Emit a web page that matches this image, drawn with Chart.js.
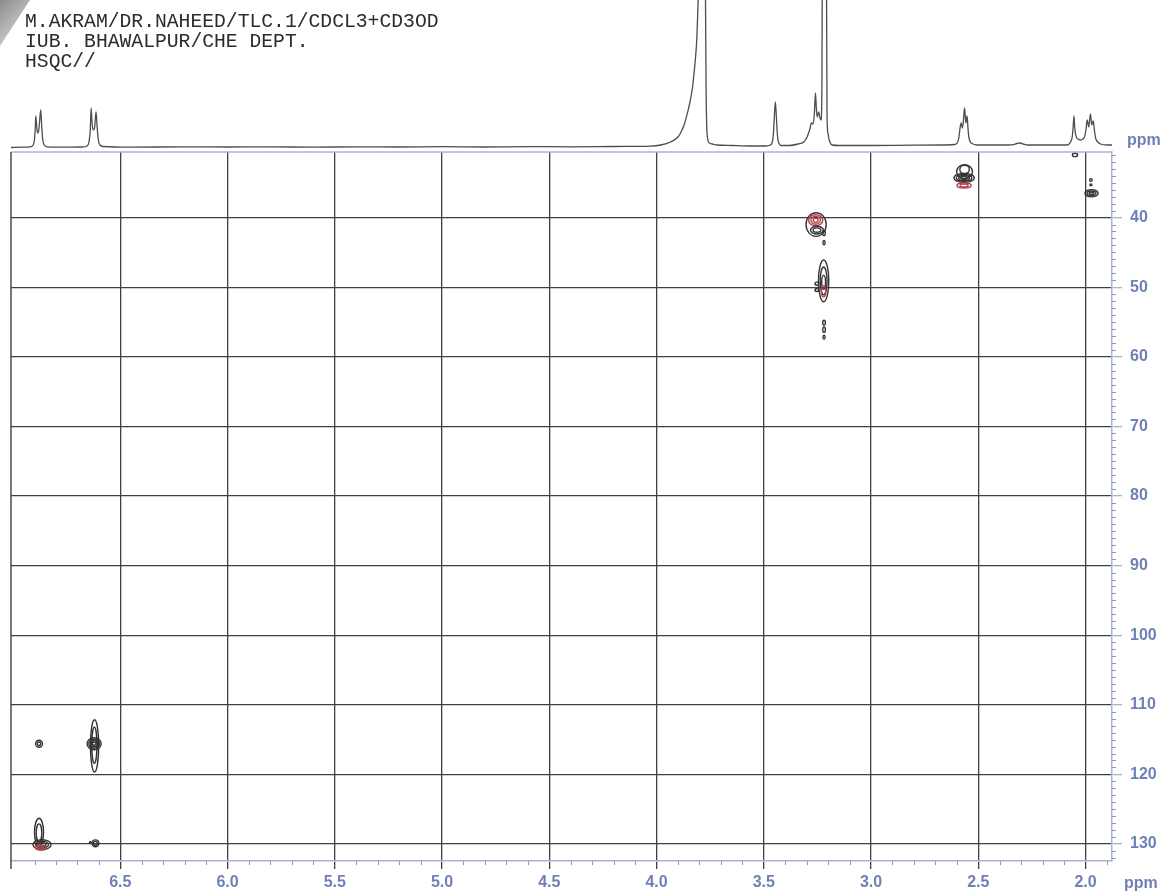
<!DOCTYPE html>
<html>
<head>
<meta charset="utf-8">
<title>HSQC</title>
<script src="https://cdn.jsdelivr.net/npm/chart.js@4/dist/chart.umd.min.js"></script>
<style>
  html, body { margin: 0; padding: 0; background: #fff; }
  #wrap { position: relative; width: 1162px; height: 895px; overflow: hidden; background: #fff; }
  canvas { position: absolute; left: 0; top: 0; }
  .hdr { position: absolute; left: 25px; top: 12px; font: 19.7px "Liberation Mono", "Courier New", monospace;
         color: #2b2b2b; line-height: 20px; white-space: pre; }
  .ppm { position: absolute; font: bold 16px "Liberation Sans", Arial, sans-serif; color: #7080b4; line-height: 16px; }
  .fold { position: absolute; left: 0; top: 0; width: 30px; height: 46px;
          background: linear-gradient(135deg, #8c8c8c 0%, #b5b5b5 45%, #e6e6e6 100%);
          clip-path: polygon(0 0, 100% 0, 0 100%); }
</style>
</head>
<body>
<div id="wrap">
  <canvas id="hsqc" width="1162" height="895"></canvas>
  <canvas id="proj" width="1162" height="152"></canvas>
  <div class="fold"></div>
  <div class="hdr">M.AKRAM/DR.NAHEED/TLC.1/CDCL3+CD3OD
IUB. BHAWALPUR/CHE DEPT.
HSQC//</div>
  <div class="ppm" style="left:1127px; top:132px;">ppm</div>
  <div class="ppm" style="left:1124px; top:875px;">ppm</div>
</div>
<script>
// ---- axis ranges (ppm) ----
const H_LEFT = 7.0096, H_RIGHT = 1.8765;      // 1H axis, reversed
const C_TOP = 30.58, C_BOTTOM = 132.44;        // 13C axis, increasing downward

// ---- tick labels ----
const hTicks = [6.5, 6.0, 5.5, 5.0, 4.5, 4.0, 3.5, 3.0, 2.5, 2.0];
const cTicks = [40, 50, 60, 70, 80, 90, 100, 110, 120, 130];

// ---- 1H projection trace (ppm, intensity) ----
const projPpm = [
  7.010, 6.950, 6.920, 6.906, 6.900, 6.896, 6.894, 6.890, 6.886, 6.880, 6.875, 6.871, 6.867, 6.862, 6.855, 6.840,
  6.760, 6.680, 6.655, 6.646, 6.640, 6.636, 6.632, 6.627, 6.620, 6.616, 6.613, 6.609, 6.603, 6.595, 6.580,
  6.450, 6.200, 6.000, 5.800, 5.600, 5.400, 5.200, 5.000, 4.800, 4.600, 4.400, 4.200, 4.100, 4.030,
  3.980, 3.935, 3.900, 3.888, 3.870, 3.856, 3.845, 3.832, 3.825, 3.818, 3.812, 3.809, 3.804, 3.798, 3.790,
  3.782, 3.776, 3.772, 3.769, 3.766, 3.762, 3.758, 3.740, 3.716, 3.650, 3.562,
  3.490, 3.470, 3.462, 3.456, 3.451, 3.446, 3.441, 3.436, 3.430, 3.420, 3.380,
  3.340, 3.314, 3.298, 3.285, 3.278, 3.270, 3.264, 3.259, 3.255, 3.251, 3.244, 3.238, 3.233, 3.229, 3.226,
  3.222, 3.214, 3.209, 3.205, 3.200, 3.195, 3.181, 3.150, 3.000, 2.800, 2.650,
  2.610, 2.598, 2.590, 2.586, 2.580, 2.574, 2.569, 2.564, 2.560, 2.558, 2.552, 2.548, 2.544, 2.537, 2.533, 2.505,
  2.400, 2.340, 2.320, 2.305, 2.290, 2.270, 2.150, 2.085,
  2.070, 2.062, 2.058, 2.054, 2.050, 2.043, 2.030, 2.023, 2.012, 2.005, 1.998, 1.992, 1.985, 1.977, 1.971,
  1.964, 1.958, 1.953, 1.940, 1.930, 1.900, 1.876
];
const projInt = [
  0.5, 0.8, 1.2, 3, 9, 22, 32, 22, 15, 18, 30, 38, 24, 9, 3, 1.2,
  0.8, 1, 2, 6, 18, 40, 26, 18, 20, 30, 36, 24, 9, 3, 1.5,
  0.8, 1.2, 1, 1.2, 0.8, 1.2, 1, 1.3, 1, 1.4, 1.2, 1.5, 1.6, 1.8,
  3, 6, 11, 15, 24, 35, 45, 61, 75, 91, 110, 128, 170, 320, 700,
  700, 320, 160, 60, 22, 10, 6, 4, 3, 2.5, 2,
  2, 3, 5, 12, 30, 46, 30, 12, 5, 2.5, 2.5,
  4, 6, 11, 19, 25, 24, 35, 55, 40, 31, 36, 30, 28, 60, 250,
  700, 700, 250, 31, 14, 8, 3, 2.5, 2.5, 2.8, 3,
  3.5, 5, 11, 18, 25, 20, 28, 40, 30, 25, 32, 20, 11, 6, 5, 3,
  3, 3.2, 4.5, 5, 4, 3, 3, 3,
  6, 11, 20, 32, 20, 11, 8.5, 8, 9, 11, 18, 28, 21, 34, 23,
  27, 17, 10, 5.5, 4, 3, 3
];

// ---- HSQC contour rings: centre (1H, 13C), half-widths (ppm), phase ----
const ringH = [
  2.564, 2.564, 2.566, 2.566, 2.566, 2.566, 2.566, 2.566,
  1.972, 1.972, 1.972, 1.975, 1.975, 2.049,
  3.256, 3.258, 3.258, 3.258, 3.252, 3.252, 3.219, 3.219,
  3.221, 3.221, 3.221, 3.221, 3.252, 3.252,
  3.219, 3.219, 3.219,
  6.879, 6.879,
  6.620, 6.621, 6.622, 6.622, 6.622, 6.622,
  6.879, 6.879, 6.865, 6.865, 6.865, 6.872, 6.872,
  6.616, 6.616, 6.640
];
const ringC = [
  33.4, 33.1, 34.3, 34.3, 34.3, 34.3, 35.4, 35.4,
  36.5, 36.5, 36.5, 34.6, 35.3, 31.0,
  41.0, 40.4, 40.4, 40.4, 41.8, 41.8, 42.2, 43.6,
  49.1, 49.1, 49.3, 50.6, 49.5, 50.4,
  55.1, 56.1, 57.2,
  115.6, 115.6,
  115.9, 115.8, 115.6, 115.6, 115.6, 115.6,
  128.3, 128.4, 130.1, 130.1, 130.1, 130.5, 130.5,
  129.9, 129.9, 129.8
];
const ringRH = [
  0.037, 0.022, 0.047, 0.036, 0.025, 0.014, 0.033, 0.019,
  0.031, 0.021, 0.011, 0.006, 0.005, 0.012,
  0.047, 0.033, 0.022, 0.011, 0.030, 0.018, 0.006, 0.005,
  0.024, 0.016, 0.009, 0.010, 0.009, 0.009,
  0.006, 0.006, 0.005,
  0.016, 0.008,
  0.019, 0.012, 0.033, 0.025, 0.017, 0.009,
  0.021, 0.013, 0.042, 0.030, 0.018, 0.023, 0.013,
  0.016, 0.009, 0.004
];
const ringRC = [
  1.0, 0.6, 0.65, 0.5, 0.35, 0.2, 0.36, 0.2,
  0.52, 0.32, 0.16, 0.2, 0.14, 0.25,
  1.7, 0.8, 0.55, 0.3, 0.55, 0.32, 0.4, 0.3,
  3.0, 2.0, 1.0, 0.8, 0.22, 0.22,
  0.35, 0.4, 0.3,
  0.5, 0.25,
  3.75, 2.6, 0.86, 0.64, 0.43, 0.22,
  2.0, 1.3, 0.72, 0.5, 0.3, 0.36, 0.2,
  0.5, 0.28, 0.12
];
const ringSign = [
  1, 1, 1, 1, 1, 1, -1, -1,
  1, 1, 1, 1, 1, 1,
  1, -1, -1, -1, 1, 1, 1, 1,
  1, 1, 1, -1, 1, 1,
  1, 1, 1,
  1, 1,
  1, 1, 1, 1, 1, 1,
  1, 1, 1, 1, 1, -1, -1,
  1, 1, 1
];

// ---- styles ----
const LABEL_COLOR = '#7080b4';
const AXIS_COLOR = '#a9b4d2';
const GRID_COLOR = '#404040';
const POS_COLOR = '#333333';
const NEG_COLOR = '#b4404c';
const labelFont = { family: '"Liberation Sans", Arial, sans-serif', size: 16, weight: 'bold' };

const rings = ringH.map((h, i) => ({ x: h, y: ringC[i], rh: ringRH[i], rc: ringRC[i], sign: ringSign[i] }));

// Contour rings drawn as ellipses through the chart scales
const contourPlugin = {
  id: 'contourRings',
  afterDatasetsDraw(chart) {
    const { ctx, chartArea, scales: { x, y } } = chart;
    ctx.save();
    ctx.beginPath();
    ctx.rect(chartArea.left, chartArea.top, chartArea.right - chartArea.left, chartArea.bottom - chartArea.top);
    ctx.clip();
    ctx.lineWidth = 1.4;
    chart.data.datasets[0].data.forEach(r => {
      const cx = x.getPixelForValue(r.x);
      const cy = y.getPixelForValue(r.y);
      const rx = Math.abs(x.getPixelForValue(r.x + r.rh) - cx);
      const ry = Math.abs(y.getPixelForValue(r.y + r.rc) - cy);
      ctx.strokeStyle = r.sign > 0 ? POS_COLOR : NEG_COLOR;
      ctx.beginPath();
      ctx.ellipse(cx, cy, Math.max(rx, 0.8), Math.max(ry, 0.8), 0, 0, Math.PI * 2);
      ctx.stroke();
    });
    ctx.restore();
  }
};

// Plot frame (top and left edges) and minor axis ticks
const framePlugin = {
  id: 'frameAndMinorTicks',
  afterDraw(chart) {
    const { ctx, chartArea: a, scales: { x, y } } = chart;
    ctx.save();
    // top edge
    ctx.strokeStyle = AXIS_COLOR;
    ctx.lineWidth = 1.5;
    ctx.beginPath();
    ctx.moveTo(a.left, a.top);
    ctx.lineTo(a.right, a.top);
    ctx.stroke();
    // left edge, running down through the tick zone
    ctx.strokeStyle = GRID_COLOR;
    ctx.lineWidth = 1.4;
    ctx.beginPath();
    ctx.moveTo(a.left, a.top);
    ctx.lineTo(a.left, a.bottom + 8);
    ctx.stroke();
    // minor ticks
    ctx.strokeStyle = '#8d96b6';
    ctx.lineWidth = 1;
    for (let k = 19; k <= 70; k++) {
      const v = k / 10;
      if (k % 5 === 0 || v < H_RIGHT || v > H_LEFT) continue;
      const px = Math.round(x.getPixelForValue(v)) + 0.5;
      ctx.beginPath();
      ctx.moveTo(px, a.bottom);
      ctx.lineTo(px, a.bottom + 4);
      ctx.stroke();
    }
    for (let v = 31; v <= 132; v++) {
      if (v % 10 === 0) continue;
      const py = Math.round(y.getPixelForValue(v)) + 0.5;
      ctx.beginPath();
      ctx.moveTo(a.right, py);
      ctx.lineTo(a.right + 4, py);
      ctx.stroke();
    }
    ctx.restore();
  }
};

new Chart(document.getElementById('hsqc'), {
  type: 'scatter',
  data: { datasets: [{ label: 'HSQC', data: rings, pointRadius: 0, pointHoverRadius: 0 }] },
  options: {
    responsive: false,
    animation: false,
    devicePixelRatio: 1,
    layout: { padding: { left: 11, top: 152, right: 0, bottom: 0 } },
    plugins: { legend: { display: false }, tooltip: { enabled: false } },
    scales: {
      x: {
        type: 'linear', position: 'bottom', reverse: true, min: H_RIGHT, max: H_LEFT,
        afterBuildTicks: s => { s.ticks = hTicks.map(v => ({ value: v })); },
        afterFit: s => { s.height = 34; },
        grid: { color: GRID_COLOR, lineWidth: 1.3, tickLength: 8, tickColor: GRID_COLOR, tickWidth: 1.3 },
        border: { color: AXIS_COLOR, width: 1.5 },
        ticks: { color: LABEL_COLOR, font: labelFont, padding: 4, maxRotation: 0, autoSkip: false,
                 callback: v => Number(v).toFixed(1) }
      },
      y: {
        type: 'linear', position: 'right', reverse: true, min: C_TOP, max: C_BOTTOM,
        afterBuildTicks: s => { s.ticks = cTicks.map(v => ({ value: v })); },
        afterFit: s => { s.width = 50; },
        grid: { color: GRID_COLOR, lineWidth: 1.3, tickLength: 10, tickColor: AXIS_COLOR, tickWidth: 1.3 },
        border: { color: AXIS_COLOR, width: 1.5 },
        ticks: { color: LABEL_COLOR, font: labelFont, padding: 8, autoSkip: false,
                 callback: v => String(v) }
      }
    }
  },
  plugins: [contourPlugin, framePlugin]
});

// 1H projection above the 2D map, sharing the same 1H range
new Chart(document.getElementById('proj'), {
  type: 'line',
  data: {
    datasets: [{
      label: '1H',
      data: projPpm.map((p, i) => ({ x: p, y: projInt[i] })),
      borderColor: '#4d4d4d',
      borderWidth: 1.3,
      pointRadius: 0,
      fill: false,
      cubicInterpolationMode: 'monotone'
    }]
  },
  options: {
    responsive: false,
    animation: false,
    devicePixelRatio: 1,
    layout: { padding: { left: 11, right: 50, top: 0, bottom: 0 } },
    plugins: { legend: { display: false }, tooltip: { enabled: false } },
    scales: {
      x: { type: 'linear', reverse: true, min: H_RIGHT, max: H_LEFT, display: false },
      y: { type: 'linear', min: -4, max: 148, display: false }
    }
  }
});
</script>
</body>
</html>
